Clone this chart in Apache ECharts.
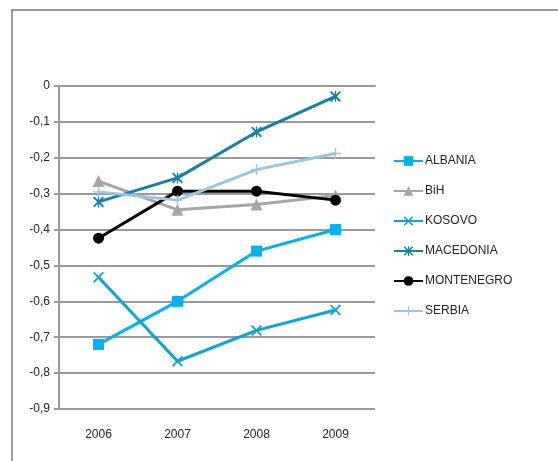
<!DOCTYPE html>
<html>
<head>
<meta charset="utf-8">
<script src="https://cdn.jsdelivr.net/npm/echarts@6/dist/echarts.min.js"></script>
<style>
html,body{margin:0;padding:0;background:#fff;}
#chart{width:558px;height:461px;}
</style>
</head>
<body>
<div id="chart"></div>
<script>
var years = ['2006', '2007', '2008', '2009'];
var albania = [-0.72, -0.60, -0.46, -0.40];
var bih = [-0.265, -0.345, -0.33, -0.305];
var kosovo = [-0.533, -0.767, -0.681, -0.624];
var macedonia = [-0.323, -0.256, -0.128, -0.029];
var montenegro = [-0.424, -0.293, -0.293, -0.318];
var serbia = [-0.295, -0.318, -0.233, -0.188];
var yTicks = { min: -0.9, max: 0, interval: 0.1 };

var xPath = 'path://M0,1.2L1.2,0L10,8.8L8.8,10Z M8.8,0L10,1.2L1.2,10L0,8.8Z';
var starPath = 'path://M0,1.2L1.2,0L10,8.8L8.8,10Z M8.8,0L10,1.2L1.2,10L0,8.8Z M4.4,0L5.6,0L5.6,10L4.4,10Z';
var plusPath = 'path://M4.4,0L5.6,0L5.6,10L4.4,10Z M0,4.4L10,4.4L10,5.6L0,5.6Z';

function mk(name, data, color, symbol, size) {
  return {
    name: name, type: 'line', data: data,
    symbol: symbol, symbolSize: size,
    showSymbol: true,
    lineStyle: { color: color, width: 3 },
    itemStyle: { color: color },
    emphasis: { disabled: true },
    z: 3
  };
}

var chart = echarts.init(document.getElementById('chart'));
chart.setOption({
  animation: false,
  backgroundColor: '#fff',
  graphic: [{
    type: 'rect',
    shape: { x: 12, y: 10, width: 600, height: 500 },
    style: { fill: 'none', stroke: '#9a9a9a', lineWidth: 2 },
    silent: true
  }],
  grid: { left: 59, right: 183, top: 86, bottom: 52, containLabel: false },
  legend: {
    orient: 'vertical',
    left: 393, top: 155, padding: 0,
    itemWidth: 29, itemHeight: 12, itemGap: 18,
    textStyle: { fontFamily: 'Liberation Sans', fontSize: 12, color: '#222', padding: [0, 0, 0, -3] },
    data: ['ALBANIA', 'BiH', 'KOSOVO', 'MACEDONIA', 'MONTENEGRO', 'SERBIA']
  },
  xAxis: {
    type: 'category', data: years, boundaryGap: true,
    axisLine: { lineStyle: { color: '#9a9a9a', width: 2 } },
    axisTick: { show: false },
    axisLabel: { fontFamily: 'Liberation Sans', fontSize: 12, color: '#222', margin: 20 },
    splitLine: { show: false }
  },
  yAxis: {
    type: 'value', min: yTicks.min, max: yTicks.max, interval: yTicks.interval,
    axisLine: { show: true, lineStyle: { color: '#9a9a9a', width: 2 } },
    axisTick: { show: true, length: 5, lineStyle: { color: '#9a9a9a', width: 2 } },
    axisLabel: {
      fontFamily: 'Liberation Sans', fontSize: 12, color: '#222', margin: 9,
      formatter: function (v) { return v === 0 ? '0' : v.toFixed(1).replace('.', ','); }
    },
    splitLine: { show: true, lineStyle: { color: '#9a9a9a', width: 2 } }
  },
  series: [
    mk('ALBANIA', albania, '#00B0F0', 'rect', 11),
    mk('BiH', bih, '#A6A6A6', 'triangle', 12),
    mk('KOSOVO', kosovo, '#0FA3D6', xPath, 11),
    mk('MACEDONIA', macedonia, '#177FA2', starPath, 11),
    mk('MONTENEGRO', montenegro, '#000000', 'circle', 11),
    mk('SERBIA', serbia, '#9CC6E0', plusPath, 11)
  ]
});
</script>
</body>
</html>
